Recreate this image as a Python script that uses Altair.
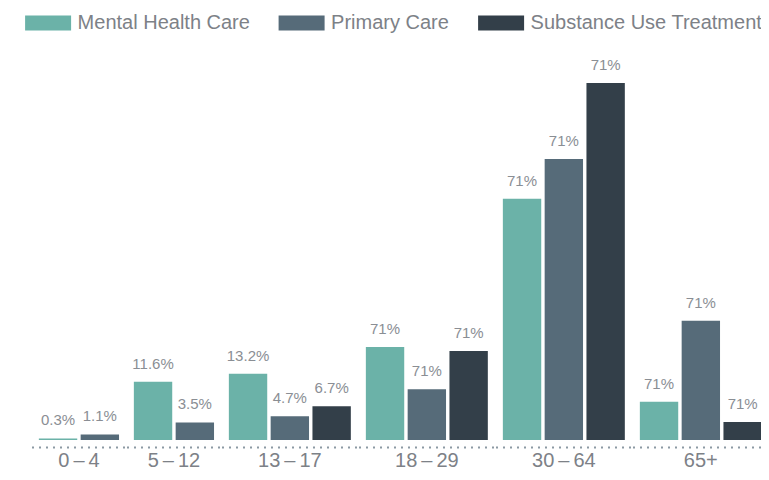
import altair as alt
import pandas as pd

groups = ["0\u2009–\u20094", "5\u2009–\u200912", "13\u2009–\u200917",
          "18\u2009–\u200929", "30\u2009–\u200964", "65+"]
series = ["Mental Health Care", "Primary Care", "Substance Use Treatment"]
colors = ["#6bb2a8", "#566b79", "#333f49"]

mhc_values = [0.3, 11.6, 13.2, 18.5, 48.0, 7.6]
pc_values = [1.1, 3.5, 4.7, 10.1, 55.9, 23.7]
sut_values = [None, None, 6.7, 17.7, 71.0, 3.6]

mhc_labels = ["0.3%", "11.6%", "13.2%", "71%", "71%", "71%"]
pc_labels = ["1.1%", "3.5%", "4.7%", "71%", "71%", "71%"]
sut_labels = [None, None, "6.7%", "71%", "71%", "71%"]

rows = []
for s, vals, labs in zip(series, [mhc_values, pc_values, sut_values],
                         [mhc_labels, pc_labels, sut_labels]):
    for g, v, l in zip(groups, vals, labs):
        if v is not None:
            rows.append({"group": g, "series": s, "value": v, "label": l})
df = pd.DataFrame(rows)

FONT = "Liberation Sans"
GREY = "#7d8187"

x_enc = alt.X("series:N", sort=series,
              scale=alt.Scale(paddingInner=0.082, paddingOuter=0.176),
              axis=alt.Axis(labels=False, ticks=False, title=None, domain=True,
                            domainDash=[2, 5], domainWidth=2,
                            domainColor="#8c99a3", offset=7, grid=False))
y_enc = alt.Y("value:Q", scale=alt.Scale(domain=[0, 75], nice=False), axis=None)

bars = alt.Chart().mark_bar().encode(
    x=x_enc,
    y=y_enc,
    color=alt.Color("series:N", sort=series,
                    scale=alt.Scale(domain=series, range=colors),
                    legend=alt.Legend(orient="none", legendX=6.6, legendY=-50.1,
                                      direction="horizontal", title=None,
                                      symbolType="M-3.0667,-1H3.0667V1H-3.0667Z",
                                      symbolSize=225, symbolStrokeWidth=0,
                                      symbolOpacity=1,
                                      labelFontSize=20, labelColor=GREY,
                                      labelFont=FONT, labelOffset=19.5,
                                      labelLimit=400, columnPadding=27.5)),
)

texts = alt.Chart().mark_text(dy=-18, baseline="middle", align="center",
                              fontSize=15, color="#8a8e94", font=FONT).encode(
    x=alt.X("series:N", sort=series),
    y=alt.Y("value:Q"),
    text="label:N",
)

chart = alt.layer(bars, texts, data=df).properties(
    width=alt.Step(41.8), height=377
).facet(
    column=alt.Column("group:N", sort=groups,
                      header=alt.Header(labelOrient="bottom", title=None,
                                        labelFontSize=20, labelColor=GREY,
                                        labelFont=FONT, labelPadding=4.1))
).resolve_scale(x="independent").properties(
    spacing=0,
    autosize=alt.AutoSizeParams(type="none"),
    padding={"left": 23.5, "top": 55, "right": 729.5, "bottom": 407},
).configure(font=FONT).configure_view(stroke="transparent", strokeWidth=0)

chart.save("out.html", embed_options={"renderer": "svg", "actions": False})
